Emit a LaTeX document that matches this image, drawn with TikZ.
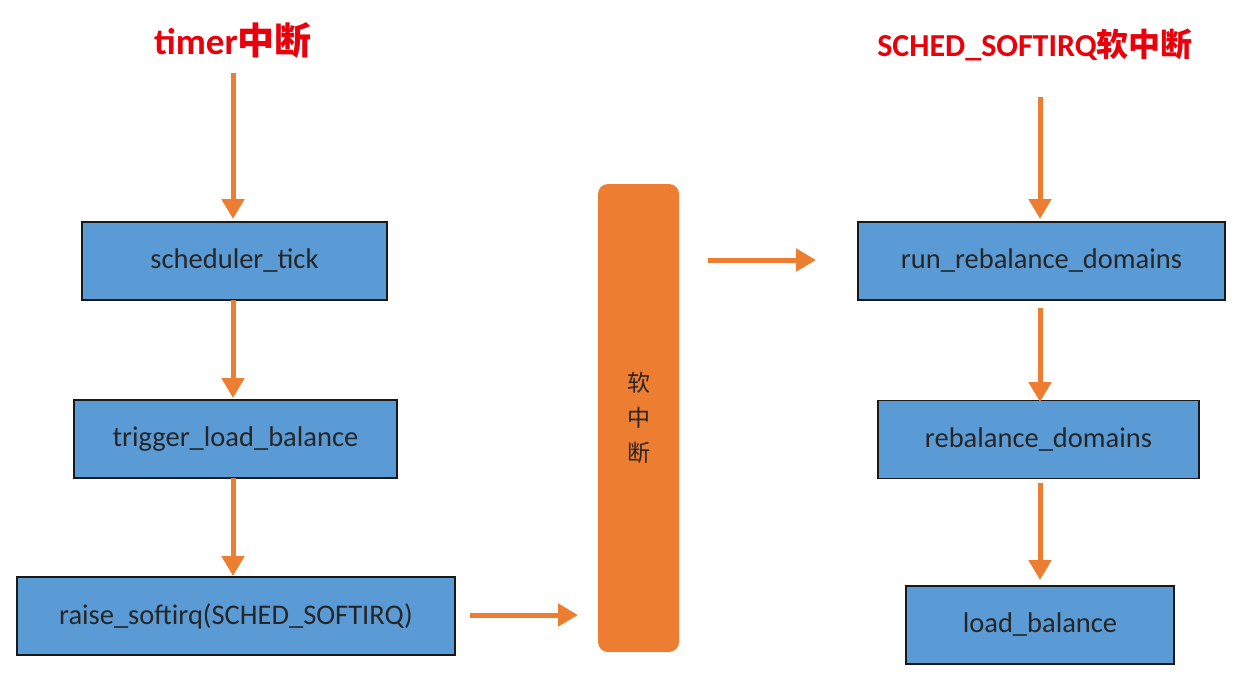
\documentclass[tikz,border=0pt]{standalone}
\usepackage{fontspec}
\setmainfont{Carlito}
\newfontfamily\cjk{Noto Sans CJK SC}
\usetikzlibrary{arrows.meta}
\definecolor{boxblue}{HTML}{5B9BD5}
\definecolor{orng}{HTML}{ED7D31}
\definecolor{ttlred}{HTML}{E8000B}
\tikzset{
  fbox/.style={draw=black!90, line width=1.6pt, fill=boxblue, minimum height=78pt, inner sep=0pt, font=\fontsize{28.5}{32}\selectfont, text=black!85},
  flow/.style={draw=orng, line width=5pt, -{Triangle[length=20pt,width=22pt]}},
  ttl/.style={text=ttlred, font=\bfseries}
}
\begin{document}
\begin{tikzpicture}[x=1pt,y=-1pt]
\useasboundingbox (0,0) rectangle (1236,680);
\node[ttl, font=\bfseries\fontsize{37}{40}\selectfont] (t1) at (233,40) {timer{\cjk\bfseries 中断}};
\node[ttl, font=\bfseries\fontsize{32}{36}\selectfont] (t2) at (1035,45) {SCHED\_SOFTIRQ{\cjk\bfseries 软中断}};

\node[fbox, minimum width=305pt] (b1) at (234.5,261) {scheduler\_tick};
\node[fbox, minimum width=323pt] (b2) at (235.5,439) {trigger\_load\_balance};
\node[fbox, minimum width=438pt] (b3) at (236,616) {raise\_softirq(SCHED\_SOFTIRQ)};

\node[fill=orng, rounded corners=10pt, minimum width=81pt, minimum height=468pt, inner sep=0pt,
      align=center, font=\cjk\fontsize{23}{35}\selectfont, text=black!85] (bar) at (638.5,418) {软\\中\\断};

\node[fbox, minimum width=367pt] (b4) at (1041.5,261) {run\_rebalance\_domains};
\node[fbox, minimum width=321pt] (b5) at (1038.5,439.5) {rebalance\_domains};
\node[fbox, minimum width=268pt] (b6) at (1040,625) {load\_balance};

\coordinate (s1) at (233,73);
\coordinate (s2) at (1040,97);
\coordinate (h1) at (470,615);
\coordinate (h1e) at (578,615);
\coordinate (h2) at (708,260);
\coordinate (h2e) at (816,260);

\draw[flow] (s1) -- (233,219);
\draw[flow] (233,300) -- (233,398);
\draw[flow] (233,478) -- (233,576);
\draw[flow] (h1) -- (h1e);
\draw[flow] (h2) -- (h2e);
\draw[flow] (s2) -- (1040,219);
\draw[flow] (1040,308) -- (1040,402);
\draw[flow] (1040,483) -- (1040,580);
\end{tikzpicture}
\end{document}
